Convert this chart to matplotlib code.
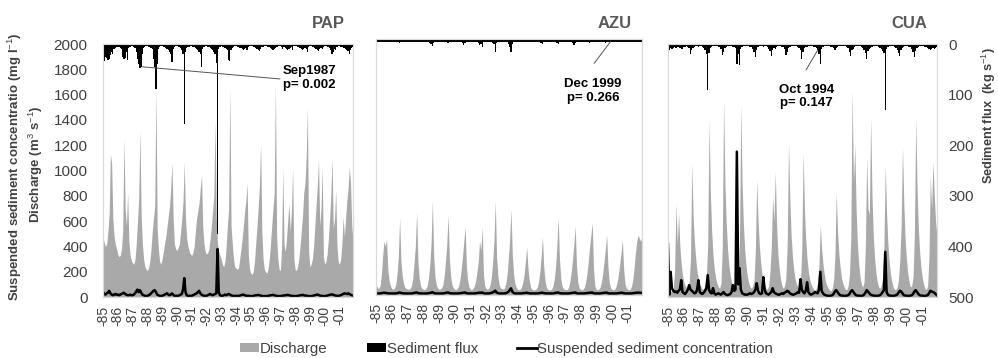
import numpy as np
import matplotlib
matplotlib.use("Agg")
import matplotlib.pyplot as plt
from matplotlib.patches import Patch
from matplotlib.lines import Line2D

plt.rcParams['font.family'] = ['Liberation Sans', 'DejaVu Sans']
plt.rcParams['mathtext.fontset'] = 'custom'
plt.rcParams['mathtext.rm'] = 'Liberation Sans'
plt.rcParams['mathtext.bf'] = 'Liberation Sans:bold'

# year tick labels (monthly series, Jan 1985 - Dec 2001)
years = ['-85', '-86', '-87', '-88', '-89', '-90', '-91', '-92', '-93',
         '-94', '-95', '-96', '-97', '-98', '-99', '-00', '-01']

# ---- PAP ----
pap_discharge = [
    [480, 430, 400, 420, 520, 650, 1130, 1060, 620, 480, 420, 380],
    [340, 320, 330, 380, 520, 1257, 700, 560, 822, 450, 330, 290],
    [270, 260, 300, 420, 600, 780, 1320, 640, 420, 300, 240, 220],
    [210, 230, 280, 380, 520, 620, 720, 1652, 540, 380, 280, 260],
    [300, 360, 420, 480, 560, 640, 720, 860, 1060, 620, 420, 380],
    [370, 390, 420, 520, 620, 760, 1067, 620, 460, 400, 360, 340],
    [330, 350, 400, 520, 620, 680, 740, 860, 964, 560, 420, 360],
    [340, 350, 380, 460, 560, 680, 800, 1400, 620, 420, 360, 330],
    [300, 260, 240, 280, 400, 560, 700, 1652, 560, 420, 300, 240],
    [230, 220, 230, 300, 380, 460, 560, 680, 760, 901, 340, 220],
    [190, 180, 200, 280, 420, 560, 700, 880, 1217, 520, 300, 220],
    [200, 190, 220, 300, 420, 560, 700, 820, 1676, 480, 300, 220],
    [210, 380, 1020, 420, 360, 460, 600, 740, 520, 680, 1020, 300],
    [220, 210, 240, 300, 400, 520, 640, 820, 900, 1100, 1502, 360],
    [240, 260, 300, 400, 560, 720, 880, 1083, 560, 700, 1020, 320],
    [260, 280, 340, 460, 620, 800, 1100, 540, 620, 846, 400, 280],
    [260, 300, 420, 632, 480, 620, 760, 860, 1028, 900, 560, 460],
]
pap_flux = [
    [30, 33, 25, 28, 32, 30, 22, 15, 20, 10, 8, 6],
    [5, 6, 8, 10, 25, 30, 28, 15, 32, 8, 5, 4],
    [4, 5, 8, 15, 30, 40, 48, 45, 20, 8, 5, 4],
    [4, 5, 6, 8, 10, 30, 45, 88, 40, 10, 6, 4],
    [4, 5, 6, 8, 10, 12, 15, 20, 36, 10, 6, 4],
    [4, 5, 6, 8, 12, 20, 158, 15, 8, 6, 5, 4],
    [4, 5, 6, 8, 10, 12, 15, 20, 45, 10, 6, 4],
    [4, 5, 6, 8, 10, 12, 15, 20, 38, 375, 10, 6],
    [4, 5, 6, 8, 10, 12, 32, 33, 12, 8, 6, 4],
    [4, 5, 6, 8, 8, 10, 12, 10, 8, 12, 5, 4],
    [4, 4, 5, 6, 8, 10, 12, 14, 10, 6, 5, 4],
    [4, 4, 5, 6, 8, 10, 12, 10, 8, 6, 5, 4],
    [4, 6, 10, 6, 8, 10, 12, 10, 8, 6, 12, 4],
    [4, 4, 5, 6, 8, 10, 12, 10, 8, 10, 15, 5],
    [4, 4, 5, 6, 8, 10, 12, 14, 10, 8, 10, 5],
    [4, 4, 5, 6, 8, 12, 19, 15, 10, 12, 6, 4],
    [4, 5, 6, 8, 8, 10, 12, 14, 20, 12, 8, 6],
]
pap_ssc = [
    [40, 25, 20, 30, 35, 50, 30, 20, 15, 20, 25, 20],
    [20, 15, 20, 25, 30, 35, 25, 20, 15, 15, 20, 15],
    [15, 20, 30, 45, 60, 40, 55, 35, 20, 15, 10, 10],
    [10, 15, 20, 30, 40, 50, 55, 40, 20, 15, 10, 10],
    [10, 15, 20, 25, 30, 20, 15, 20, 30, 20, 10, 10],
    [10, 10, 15, 20, 25, 60, 150, 40, 15, 10, 10, 10],
    [10, 15, 20, 25, 30, 40, 50, 30, 20, 15, 10, 10],
    [10, 15, 20, 25, 20, 15, 20, 25, 30, 380, 40, 15],
    [10, 10, 15, 20, 15, 20, 25, 20, 15, 10, 10, 10],
    [10, 10, 10, 12, 15, 18, 20, 15, 12, 10, 10, 10],
    [8, 8, 10, 12, 15, 15, 18, 15, 12, 10, 8, 8],
    [8, 8, 10, 12, 15, 15, 18, 15, 12, 10, 8, 8],
    [8, 10, 12, 12, 15, 15, 18, 15, 12, 10, 10, 8],
    [8, 8, 10, 12, 15, 15, 18, 15, 12, 12, 10, 8],
    [8, 8, 10, 12, 15, 18, 20, 18, 12, 10, 10, 8],
    [8, 10, 12, 15, 18, 20, 22, 18, 15, 12, 10, 10],
    [12, 15, 20, 25, 30, 28, 25, 30, 25, 20, 15, 12],
]

# ---- AZU ----
azu_discharge = [
    [80, 60, 50, 70, 150, 300, 420, 380, 437, 200, 110, 70],
    [50, 45, 50, 80, 160, 300, 600, 260, 150, 90, 60, 50],
    [45, 45, 50, 70, 130, 250, 380, 650, 260, 130, 70, 50],
    [45, 40, 50, 70, 130, 230, 400, 734, 300, 140, 80, 55],
    [45, 45, 55, 80, 150, 260, 400, 625, 280, 140, 80, 55],
    [45, 40, 50, 70, 120, 200, 300, 420, 533, 220, 110, 60],
    [45, 40, 50, 70, 110, 180, 260, 420, 350, 533, 160, 70],
    [50, 45, 50, 80, 140, 260, 420, 734, 300, 150, 80, 55],
    [50, 45, 55, 90, 160, 280, 440, 672, 320, 160, 90, 60],
    [45, 40, 45, 60, 100, 160, 260, 375, 200, 110, 60, 45],
    [40, 40, 45, 60, 100, 180, 300, 453, 220, 110, 60, 45],
    [40, 40, 45, 70, 120, 220, 380, 609, 280, 130, 70, 50],
    [45, 40, 45, 60, 110, 180, 280, 400, 539, 230, 100, 55],
    [45, 40, 45, 60, 100, 170, 260, 380, 470, 570, 200, 70],
    [45, 40, 45, 60, 100, 170, 260, 360, 469, 220, 100, 55],
    [45, 40, 45, 60, 100, 160, 240, 330, 430, 200, 90, 55],
    [45, 40, 45, 70, 120, 220, 330, 420, 469, 440, 420, 460],
]
azu_flux = [
    [5, 5, 5, 5, 5, 5, 6, 5, 6, 5, 5, 5],
    [5, 5, 5, 5, 5, 6, 7, 5, 5, 5, 5, 5],
    [5, 5, 5, 5, 5, 5, 6, 6, 5, 5, 5, 5],
    [5, 5, 5, 5, 5, 7, 10, 14, 8, 5, 5, 5],
    [5, 5, 5, 5, 5, 5, 6, 7, 5, 5, 5, 5],
    [5, 5, 5, 5, 5, 6, 8, 11, 7, 5, 5, 5],
    [5, 5, 5, 5, 5, 6, 8, 12, 10, 16, 5, 5],
    [5, 5, 5, 5, 6, 8, 10, 25, 8, 5, 5, 5],
    [5, 5, 5, 5, 6, 10, 16, 25, 10, 6, 5, 5],
    [5, 5, 5, 5, 5, 5, 6, 6, 5, 5, 5, 5],
    [5, 5, 5, 5, 5, 6, 7, 9, 6, 5, 5, 5],
    [5, 5, 5, 5, 5, 6, 7, 9, 6, 5, 5, 5],
    [5, 5, 5, 5, 5, 6, 8, 11, 7, 5, 5, 5],
    [5, 5, 5, 5, 5, 5, 6, 7, 5, 5, 5, 5],
    [5, 5, 5, 5, 5, 5, 6, 7, 5, 5, 5, 5],
    [5, 5, 5, 5, 5, 5, 5, 6, 5, 5, 5, 5],
    [5, 5, 5, 5, 5, 5, 5, 5, 5, 5, 5, 5],
]
azu_ssc = [
    [14, 12, 12, 12, 14, 16, 18, 16, 15, 13, 12, 12],
    [12, 12, 12, 12, 14, 16, 20, 16, 14, 12, 12, 12],
    [12, 12, 12, 12, 14, 16, 18, 20, 15, 13, 12, 12],
    [12, 12, 12, 12, 14, 16, 18, 22, 16, 13, 12, 12],
    [12, 12, 12, 12, 14, 16, 18, 20, 15, 13, 12, 12],
    [12, 12, 12, 12, 14, 15, 17, 18, 20, 14, 12, 12],
    [12, 12, 12, 12, 14, 15, 17, 18, 18, 20, 14, 12],
    [12, 12, 12, 14, 16, 20, 26, 34, 20, 15, 12, 12],
    [12, 12, 12, 14, 18, 26, 38, 52, 26, 16, 12, 12],
    [12, 12, 12, 12, 14, 15, 16, 18, 15, 13, 12, 12],
    [12, 12, 12, 12, 14, 15, 17, 18, 15, 13, 12, 12],
    [12, 12, 12, 12, 14, 16, 18, 20, 15, 13, 12, 12],
    [12, 12, 12, 12, 14, 15, 17, 18, 20, 14, 12, 12],
    [12, 12, 12, 12, 14, 15, 16, 18, 18, 20, 14, 12],
    [12, 12, 12, 12, 14, 15, 17, 18, 19, 14, 12, 12],
    [12, 12, 12, 12, 13, 14, 16, 17, 18, 14, 12, 12],
    [12, 12, 12, 12, 14, 15, 17, 18, 19, 18, 17, 18],
]

# ---- CUA ----
cua_discharge = [
    [60, 50, 45, 50, 70, 200, 743, 420, 664, 400, 260, 170],
    [120, 90, 70, 80, 120, 300, 1059, 640, 430, 300, 200, 140],
    [100, 80, 60, 70, 100, 160, 420, 1399, 820, 520, 330, 220],
    [150, 110, 80, 70, 110, 400, 1552, 900, 580, 380, 250, 170],
    [120, 90, 70, 60, 90, 160, 450, 1518, 880, 560, 360, 240],
    [160, 110, 80, 70, 90, 140, 380, 925, 600, 400, 270, 180],
    [120, 90, 70, 60, 90, 200, 400, 793, 600, 991, 560, 340],
    [220, 140, 90, 70, 90, 150, 420, 1228, 760, 480, 320, 210],
    [140, 100, 80, 70, 110, 380, 1138, 700, 450, 300, 200, 140],
    [100, 80, 60, 55, 70, 120, 260, 569, 380, 260, 180, 120],
    [90, 70, 55, 50, 70, 130, 320, 822, 520, 340, 230, 150],
    [110, 80, 60, 60, 90, 180, 460, 1636, 900, 1200, 700, 420],
    [260, 160, 100, 80, 120, 400, 1099, 700, 650, 1415, 800, 480],
    [300, 190, 120, 80, 70, 90, 150, 400, 1043, 660, 420, 280],
    [180, 120, 80, 60, 60, 80, 140, 300, 560, 1188, 740, 460],
    [300, 190, 120, 80, 90, 160, 500, 1415, 860, 540, 350, 230],
    [150, 100, 70, 60, 90, 320, 951, 700, 1070, 800, 600, 480],
]
cua_flux = [
    [10, 12, 8, 10, 7, 6, 8, 5, 6, 8, 10, 9],
    [6, 5, 4, 5, 8, 19, 12, 8, 5, 4, 4, 5],
    [4, 4, 5, 8, 12, 20, 90, 18, 8, 5, 4, 4],
    [4, 4, 5, 6, 10, 22, 15, 8, 5, 4, 4, 4],
    [4, 5, 6, 8, 39, 20, 42, 10, 6, 4, 4, 4],
    [4, 4, 5, 6, 10, 16, 26, 12, 6, 4, 4, 4],
    [5, 4, 4, 6, 10, 14, 24, 12, 8, 10, 5, 4],
    [4, 4, 5, 6, 10, 21, 15, 8, 5, 4, 4, 4],
    [4, 4, 5, 8, 12, 29, 15, 8, 5, 6, 4, 4],
    [4, 4, 5, 6, 8, 12, 20, 39, 10, 5, 4, 4],
    [4, 4, 4, 5, 6, 8, 12, 8, 5, 4, 4, 4],
    [4, 4, 4, 5, 8, 15, 24, 12, 10, 5, 4, 4],
    [4, 4, 5, 8, 12, 18, 29, 14, 10, 8, 5, 4],
    [4, 4, 4, 5, 8, 10, 14, 18, 130, 10, 5, 4],
    [4, 4, 4, 5, 8, 12, 18, 24, 12, 8, 5, 4],
    [4, 4, 5, 6, 10, 16, 26, 14, 8, 5, 4, 4],
    [4, 4, 5, 6, 8, 10, 12, 10, 8, 10, 8, 6],
]
cua_ssc = [
    [419, 20, 200, 70, 50, 40, 45, 35, 50, 60, 134, 40],
    [30, 25, 40, 60, 95, 60, 50, 40, 30, 35, 60, 134],
    [40, 30, 25, 35, 50, 70, 174, 60, 35, 30, 71, 30],
    [20, 25, 30, 25, 20, 30, 40, 25, 20, 15, 20, 25],
    [40, 95, 50, 60, 1150, 100, 229, 60, 30, 25, 20, 20],
    [20, 25, 30, 25, 30, 40, 60, 110, 50, 30, 25, 30],
    [158, 60, 30, 25, 20, 30, 40, 71, 40, 30, 25, 20],
    [20, 25, 30, 25, 35, 40, 50, 45, 30, 25, 20, 20],
    [25, 30, 40, 35, 142, 60, 40, 30, 50, 118, 40, 25],
    [20, 25, 30, 40, 35, 30, 60, 200, 50, 30, 20, 15],
    [12, 10, 10, 12, 15, 25, 45, 55, 40, 25, 15, 12],
    [12, 10, 10, 12, 15, 25, 45, 55, 40, 25, 15, 12],
    [12, 10, 10, 12, 20, 35, 55, 45, 30, 20, 15, 12],
    [12, 10, 10, 12, 15, 25, 40, 55, 358, 40, 20, 12],
    [12, 10, 10, 12, 15, 20, 35, 50, 45, 30, 15, 12],
    [12, 10, 10, 12, 15, 25, 45, 55, 40, 25, 15, 12],
    [12, 10, 10, 12, 15, 30, 50, 45, 40, 35, 25, 15],
]

GRAY = '#a9a9a9'
TXT = '#404040'
EDGE = '#d9d9d9'

panels = [
    dict(name='PAP', rect=[0.1032, 0.170, 0.2505, 0.707],
         q=pap_discharge, f=pap_flux, c=pap_ssc,
         note='Sep1987\np= 0.002', anchor=(32, 45),
         line_end=(0.708, 0.862), text_xy=(0.72, 0.866), ha='left', title_x=345),
    dict(name='AZU', rect=[0.3768, 0.176, 0.2665, 0.715],
         q=azu_discharge, f=azu_flux, c=azu_ssc,
         note='Dec 1999\np= 0.266', anchor=(179, 5),
         line_end=(0.82, 0.905), text_xy=(0.816, 0.797), ha='center', title_x=632),
    dict(name='CUA', rect=[0.6693, 0.170, 0.2695, 0.707],
         q=cua_discharge, f=cua_flux, c=cua_ssc,
         note='Oct 1994\np= 0.147', anchor=(113, 12),
         line_end=(0.513, 0.897), text_xy=(0.516, 0.793), ha='center', title_x=927),
]

fig = plt.figure(figsize=(9.98, 3.58), dpi=100)

for i, p in enumerate(panels):
    q = np.array(p['q'], dtype=float).ravel()
    f = np.array(p['f'], dtype=float).ravel()
    c = np.array(p['c'], dtype=float).ravel()
    months = np.arange(len(q))

    ax = fig.add_axes(p['rect'])
    ax.fill_between(months, 0, q, color=GRAY, lw=0)
    ax.plot(months, c, color='black', lw=1.8)
    ax.set_xlim(0, len(q) - 1)
    ax.set_ylim(0, 2000)
    ax.set_xticks(np.arange(0, len(q), 12))
    ax.set_xticklabels(years, rotation=90, fontsize=10, color=TXT)
    ax.set_yticks(np.arange(0, 2001, 200))
    ax.tick_params(axis='x', length=0, pad=6)
    ax.tick_params(axis='y', length=0, pad=11, labelsize=11, labelcolor=TXT)
    if i != 0:
        ax.set_yticklabels([])

    # sediment flux hangs from the top on an inverted second axis
    ax2 = ax.twinx()
    ax2.bar(months, f, width=1.0, color='black', lw=0)
    ax2.set_ylim(500, 0)
    ax2.set_yticks(np.arange(0, 501, 100))
    ax2.tick_params(axis='y', length=0, pad=8, labelsize=11, labelcolor=TXT)
    if i != 2:
        ax2.set_yticklabels([])

    for a in (ax, ax2):
        for s in a.spines.values():
            s.set_color(EDGE)
            s.set_linewidth(0.8)

    ax2.annotate('', xy=p['anchor'], xycoords='data',
                 xytext=p['line_end'], textcoords='axes fraction',
                 arrowprops=dict(arrowstyle='-', color='#555555', lw=0.7,
                                 shrinkA=0, shrinkB=0))
    ax2.text(p['text_xy'][0], p['text_xy'][1], p['note'], transform=ax2.transAxes,
             ha=p['ha'], va='center', fontsize=9.5, fontweight='bold',
             linespacing=1.2, color='black')

    fig.text(p['title_x'] / 998, 1 - 24 / 358, p['name'], ha='right', va='center',
             fontsize=12, fontweight='bold', color='#595959')

# axis titles
fig.text(15 / 998, 1 - 167 / 358, r'Suspended sediment concentratio (mg l$^{-1}$)',
         rotation=90, ha='center', va='center', fontsize=9.5, fontweight='bold', color=TXT)
fig.text(36 / 998, 1 - 164 / 358, r'Discharge (m$^{3}$ s$^{-1}$)',
         rotation=90, ha='center', va='center', fontsize=9.5, fontweight='bold', color=TXT)
fig.text(989 / 998, 1 - 116 / 358, r'Sediment flux  (kg s$^{-1}$)',
         rotation=90, ha='center', va='center', fontsize=9.2, fontweight='bold', color=TXT)

handles = [Patch(facecolor=GRAY, edgecolor='none'),
           Patch(facecolor='black', edgecolor='none'),
           Line2D([], [], color='black', lw=2)]
labels = ['Discharge', 'Sediment flux', 'Suspended sediment concentration']
fig.legend(handles, labels, loc='center', bbox_to_anchor=(0.5075, 0.025), ncol=3,
           frameon=False, fontsize=10.8, handlelength=1.3, handleheight=0.5,
           handletextpad=0.05, columnspacing=2.6, labelcolor=TXT,
           borderpad=0, borderaxespad=0)

fig.savefig('out.png', dpi=100)
